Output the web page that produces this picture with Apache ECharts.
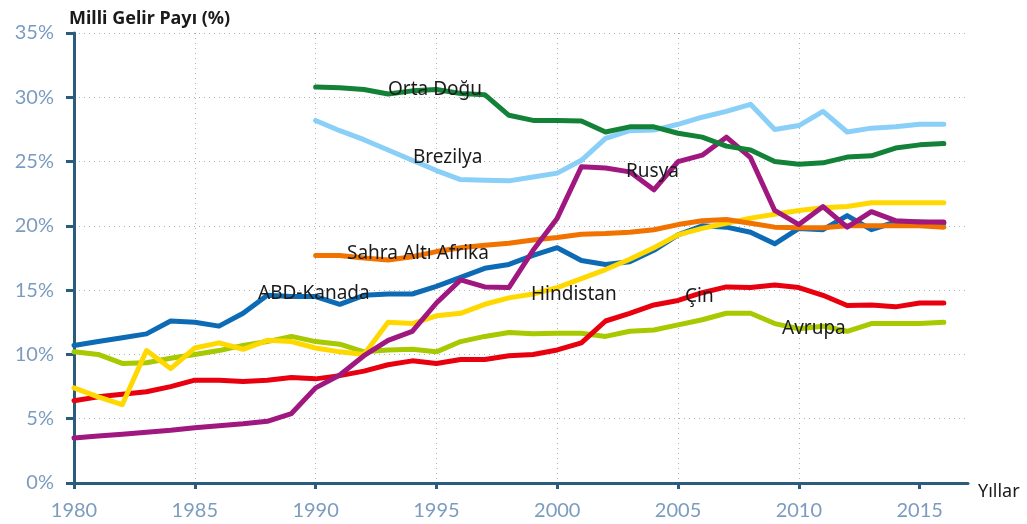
<!DOCTYPE html>
<html>
<head>
<meta charset="utf-8">
<script src="https://cdn.jsdelivr.net/npm/echarts@6/dist/echarts.min.js"></script>
<style>
  html, body { margin: 0; padding: 0; background: #fff; }
  #gelir { width: 1027px; height: 524px; }
</style>
</head>
<body>
<div id="gelir"></div>
<script>
// yillar
const years80 = [1980, 1981, 1982, 1983, 1984, 1985, 1986, 1987, 1988, 1989,
  1990, 1991, 1992, 1993, 1994, 1995, 1996, 1997, 1998, 1999,
  2000, 2001, 2002, 2003, 2004, 2005, 2006, 2007, 2008, 2009,
  2010, 2011, 2012, 2013, 2014, 2015, 2016];
const years90 = years80.slice(10);
const xTicks = [1980, 1985, 1990, 1995, 2000, 2005, 2010, 2015];

// milli gelir payi (%), 1980-2016
const abdKanada = [10.7, 11.0, 11.3, 11.6, 12.6, 12.5, 12.2, 13.2, 14.6, 14.5,
  14.5, 13.9, 14.6, 14.7, 14.7, 15.3, 16.0, 16.7, 17.0, 17.7,
  18.3, 17.3, 17.0, 17.2, 18.1, 19.3, 20.0, 19.9, 19.5, 18.6,
  19.8, 19.7, 20.8, 19.7, 20.3, 20.3, 20.2];
const hindistan = [7.4, 6.7, 6.1, 10.3, 8.9, 10.5, 10.9, 10.4, 11.1, 11.0,
  10.5, 10.2, 10.0, 12.5, 12.4, 13.0, 13.2, 13.9, 14.4, 14.7,
  15.2, 15.9, 16.6, 17.4, 18.3, 19.3, 19.8, 20.2, 20.6, 20.9,
  21.2, 21.4, 21.5, 21.8, 21.8, 21.8, 21.8];
const avrupa = [10.2, 10.0, 9.3, 9.35, 9.7, 10.0, 10.3, 10.7, 11.0, 11.4,
  11.0, 10.8, 10.2, 10.35, 10.4, 10.2, 11.0, 11.4, 11.7, 11.6,
  11.65, 11.65, 11.4, 11.8, 11.9, 12.3, 12.7, 13.2, 13.2, 12.4,
  12.0, 12.2, 11.8, 12.4, 12.4, 12.4, 12.5];
const cin = [6.4, 6.7, 6.9, 7.1, 7.5, 8.0, 8.0, 7.9, 8.0, 8.2,
  8.1, 8.35, 8.7, 9.2, 9.5, 9.3, 9.6, 9.6, 9.9, 10.0,
  10.35, 10.9, 12.6, 13.2, 13.85, 14.2, 14.8, 15.25, 15.2, 15.4,
  15.2, 14.6, 13.8, 13.85, 13.7, 14.0, 14.0];
const rusya = [3.5, 3.65, 3.8, 3.95, 4.1, 4.3, 4.45, 4.6, 4.8, 5.4,
  7.4, 8.4, 9.9, 11.1, 11.8, 14.0, 15.8, 15.25, 15.2, 18.1,
  20.6, 24.6, 24.5, 24.2, 22.8, 25.0, 25.5, 26.9, 25.3, 21.2,
  20.1, 21.5, 19.9, 21.1, 20.4, 20.3, 20.3];

// 1990-2016
const sahraAlti = [17.7, 17.7, 17.5, 17.35, 17.6, 18.0, 18.3, 18.5, 18.65, 18.9,
  19.1, 19.35, 19.4, 19.5, 19.7, 20.1, 20.4, 20.5, 20.2, 19.9,
  19.85, 19.85, 20.0, 20.0, 20.0, 20.0, 19.9];
const brezilya = [28.2, 27.4, 26.7, 25.9, 25.1, 24.3, 23.6, 23.55, 23.5, 23.8,
  24.1, 25.1, 26.8, 27.4, 27.45, 27.9, 28.45, 28.9, 29.45, 27.5,
  27.8, 28.9, 27.3, 27.6, 27.7, 27.9, 27.9];
const ortaDogu = [30.8, 30.75, 30.6, 30.25, 30.5, 30.6, 30.3, 30.2, 28.6, 28.2,
  28.2, 28.15, 27.3, 27.7, 27.7, 27.2, 26.9, 26.2, 25.9, 25.0,
  24.8, 24.9, 25.35, 25.45, 26.05, 26.3, 26.4];

function pairs(xs, ys) {
  return xs.map(function (x, i) { return [x, ys[i]]; });
}

function line(name, color, xs, ys) {
  return {
    name: name,
    type: 'line',
    data: pairs(xs, ys),
    symbol: 'none',
    smooth: false,
    lineStyle: { color: color, width: 5, cap: 'round', join: 'round' },
    silent: true
  };
}

// metin etiketleri (cizginin ustunde)
function tag(text, left, top) {
  return {
    type: 'text',
    left: left,
    top: top,
    z: 100,
    style: {
      text: text,
      fill: '#1a1a1a',
      font: '19px "Noto Sans", sans-serif'
    }
  };
}

const axisBlue = '#2b5c7c';
const labelBlue = '#7c9cbf';

let chart = echarts.init(document.getElementById('gelir'));
let option = {
  animation: false,
  title: {
    text: 'Milli Gelir Payı (%)',
    left: 64,
    top: 5,
    textStyle: {
      fontFamily: '"Noto Sans", sans-serif',
      fontSize: 18,
      fontWeight: 'bold',
      color: '#1a1a1a'
    }
  },
  grid: {
    left: 74,
    right: 59,
    top: 33,
    bottom: 41,
    containLabel: false
  },
  xAxis: {
    type: 'value',
    min: 1980,
    max: 2017,
    interval: 5,
    name: 'Yıllar',
    nameLocation: 'end',
    nameGap: 10,
    nameTextStyle: {
      fontFamily: '"Noto Sans", sans-serif',
      fontSize: 18,
      color: '#1a1a1a',
      verticalAlign: 'top'
    },
    axisLine: { lineStyle: { color: axisBlue, width: 3 } },
    axisTick: {
      customValues: xTicks,
      length: 6,
      lineStyle: { color: axisBlue, width: 3 }
    },
    axisLabel: {
      customValues: xTicks,
      margin: 18,
      formatter: function (v) { return String(v); },
      fontFamily: 'Lato, sans-serif',
      fontSize: 20,
      color: labelBlue
    },
    splitLine: {
      show: true,
      showMinLine: false,
      showMaxLine: false,
      lineStyle: { color: '#a6b4bf', type: [1, 4], width: 1 }
    }
  },
  yAxis: {
    type: 'value',
    min: 0,
    max: 35,
    interval: 5,
    axisLine: { show: true, lineStyle: { color: axisBlue, width: 3 } },
    axisTick: {
      show: true,
      length: 8,
      lineStyle: { color: axisBlue, width: 3 }
    },
    axisLabel: {
      formatter: '{value}%',
      margin: 20,
      fontFamily: 'Lato, sans-serif',
      fontSize: 20,
      color: labelBlue
    },
    splitLine: {
      show: true,
      showMinLine: false,
      lineStyle: { color: '#a6b4bf', type: [1, 4], width: 1 }
    }
  },
  series: [
    line('Avrupa', '#a7c900', years80, avrupa),
    line('Çin', '#e8000f', years80, cin),
    line('ABD-Kanada', '#0d6bb5', years80, abdKanada),
    line('Hindistan', '#ffd800', years80, hindistan),
    line('Sahra Altı Afrika', '#f27200', years90, sahraAlti),
    line('Rusya', '#a0177f', years80, rusya),
    line('Brezilya', '#8acff7', years90, brezilya),
    line('Orta Doğu', '#138238', years90, ortaDogu)
  ],
  graphic: [
    tag('Orta Doğu', 388, 80),
    tag('Brezilya', 413, 148),
    tag('Rusya', 626, 162),
    tag('Sahra Altı Afrika', 347, 244),
    tag('ABD-Kanada', 258, 284),
    tag('Hindistan', 531, 285),
    tag('Çin', 685, 287),
    tag('Avrupa', 782, 319)
  ]
};
chart.setOption(option);
</script>
</body>
</html>
